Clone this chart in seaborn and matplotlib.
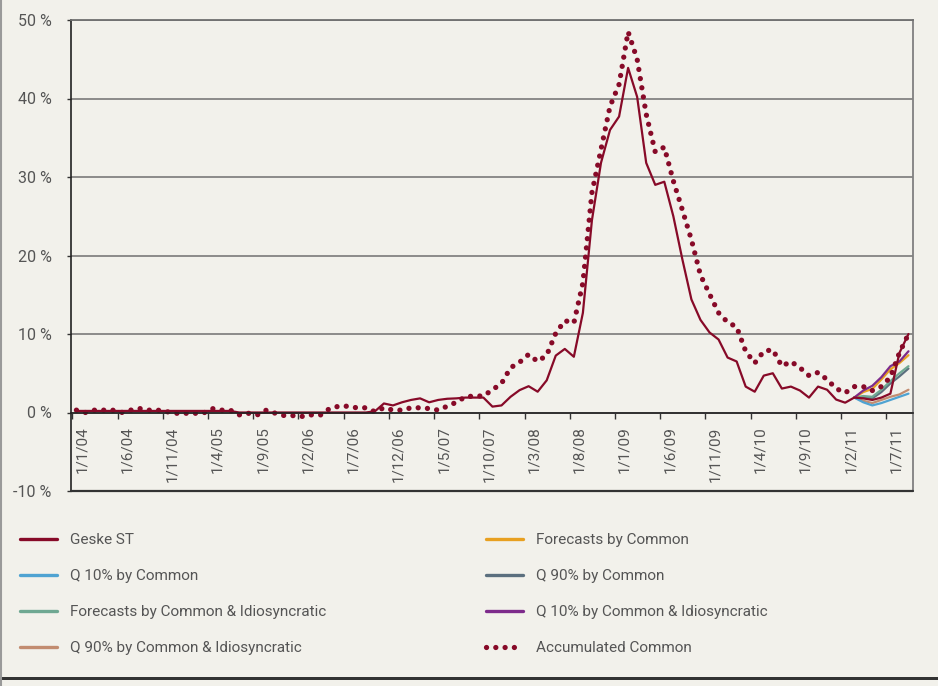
import numpy as np
import pandas as pd
import matplotlib
matplotlib.use("Agg")
import matplotlib.pyplot as plt
import matplotlib.transforms as mtransforms
from matplotlib.lines import Line2D
from matplotlib.patches import Rectangle
import seaborn as sns

# monthly values in %, Jan 2004 .. Sep 2011
geske_st = [0.2, 0.2, 0.2, 0.2, 0.2, 0.2, 0.2, 0.2, 0.2, 0.2,
            0.2, 0.2, 0.2, 0.2, 0.2, 0.2, 0.2, 0.2, 0.0, 0.0,
            0.0, 0.0, 0.0, 0.0, 0.0, 0.0, 0.0, 0.0, 0.0, 0.0,
            0.0, 0.0, 0.0, 0.15, 1.15, 0.9, 1.3, 1.6, 1.8, 1.3,
            1.6, 1.75, 1.8, 1.9, 1.9, 1.9, 0.75, 0.9, 2.0, 2.85,
            3.35, 2.65, 4.1, 7.25, 8.1, 7.1, 12.7, 24.5, 31.8, 36.0,
            37.7, 43.9, 40.2, 31.8, 29.0, 29.4, 25.0, 19.5, 14.4, 11.8,
            10.2, 9.3, 7.0, 6.5, 3.3, 2.65, 4.7, 5.0, 3.05, 3.3,
            2.8, 1.9, 3.3, 2.9, 1.65, 1.25, 1.9, 1.8, 1.6, 1.9,
            2.4, 7.6, 10.0]

accumulated_common = [0.3, 0.0, 0.3, 0.3, 0.3, 0.0, 0.3, 0.5, 0.3, 0.3,
                      0.1, -0.1, -0.1, -0.1, -0.1, 0.5, 0.3, 0.3, -0.3, -0.1,
                      -0.3, 0.3, -0.1, -0.4, -0.4, -0.5, -0.3, -0.3, 0.5, 0.8,
                      0.8, 0.6, 0.6, 0.1, 0.6, 0.3, 0.3, 0.6, 0.6, 0.5,
                      0.3, 0.8, 1.3, 2.0, 2.1, 2.1, 2.9, 3.7, 5.7, 6.4,
                      7.4, 6.5, 7.3, 10.1, 11.7, 11.4, 16.5, 28.0, 33.5, 39.0,
                      41.8, 48.5, 45.0, 38.0, 33.2, 33.8, 29.5, 25.8, 22.0, 17.5,
                      15.1, 12.7, 11.5, 10.9, 7.8, 6.3, 7.8, 8.0, 5.9, 6.5,
                      5.7, 4.7, 5.1, 4.2, 3.05, 2.5, 3.3, 3.3, 2.8, 3.3,
                      4.5, 7.6, 10.0]

# forecast paths, Mar 2011 .. Sep 2011
forecast_start = 86
forecasts_common = [1.9, 2.6, 3.0, 4.2, 5.5, 6.3, 7.3]
q10_common = [1.9, 1.3, 0.9, 1.2, 1.6, 2.0, 2.4]
q90_common = [1.9, 1.9, 1.8, 2.6, 3.7, 4.6, 5.6]
forecasts_ci = [1.9, 2.1, 2.0, 2.9, 4.0, 5.0, 5.9]
q10_ci = [1.9, 2.8, 3.4, 4.5, 5.9, 6.5, 7.8]
q90_ci = [1.9, 1.5, 1.2, 1.6, 2.0, 2.3, 2.9]

tick_labels = ['1/1/04', '1/6/04', '1/11/04', '1/4/05', '1/9/05', '1/2/06',
               '1/7/06', '1/12/06', '1/5/07', '1/10/07', '1/3/08', '1/8/08',
               '1/1/09', '1/6/09', '1/11/09', '1/4/10', '1/9/10', '1/2/11',
               '1/7/11']
y_ticks = [-10, 0, 10, 20, 30, 40, 50]
y_labels = ['-10 %', '0 %', '10 %', '20 %', '30 %', '40 %', '50 %']

bg = '#f2f1eb'
txt = '#555555'
c_geske = '#870a28'
c_fc = '#e8a020'
c_q10c = '#4fa3d2'
c_q90c = '#5b6f7e'
c_fci = '#6fa892'
c_q10ci = '#7d2b8b'
c_q90ci = '#c28c70'
dots = (0, (0.01, 1.75))

sns.set_style('white', {'axes.facecolor': bg, 'figure.facecolor': bg})
plt.rcParams['font.family'] = ['Liberation Sans Narrow', 'Roboto', 'DejaVu Sans']

df = pd.DataFrame({'month': np.arange(len(geske_st)),
                   'geske': geske_st,
                   'acc': accumulated_common})
fc = pd.DataFrame({'month': np.arange(forecast_start, forecast_start + len(forecasts_common)),
                   'fc': forecasts_common, 'q10c': q10_common, 'q90c': q90_common,
                   'fci': forecasts_ci, 'q10ci': q10_ci, 'q90ci': q90_ci})

fig = plt.figure(figsize=(9.38, 6.86), dpi=100)
ax = fig.add_axes([71 / 938, 1 - 491 / 686, (913 - 71) / 938, (491 - 20) / 686])

# forecast paths
for col, c in [('q90ci', c_q90ci), ('q10c', c_q10c), ('q90c', c_q90c),
               ('fci', c_fci), ('fc', c_fc), ('q10ci', c_q10ci)]:
    sns.lineplot(data=fc, x='month', y=col, ax=ax, color=c, lw=1.6)

sns.lineplot(data=df, x='month', y='geske', ax=ax, color=c_geske, lw=1.6)
sns.lineplot(data=df, x='month', y='acc', ax=ax, color=c_geske, lw=3.8,
             linestyle=dots, dash_capstyle='round')

ax.set_xlim(-0.6, 92.5)
ax.set_ylim(-10, 50)
ax.set_xlabel('')
ax.set_ylabel('')

ax.set_yticks(y_ticks)
ax.set_yticklabels(y_labels)
ax.set_xticks([k * 5 - 0.45 for k in range(len(tick_labels))])
ax.set_xticklabels(tick_labels)

ax.yaxis.grid(True, color='#7a7a7a', lw=1.2)
ax.xaxis.grid(False)
ax.set_axisbelow(True)

ax.spines['bottom'].set_position(('data', 0))
ax.spines['bottom'].set_color('#222222')
ax.spines['bottom'].set_linewidth(1.2)
ax.spines['left'].set_color('#222222')
ax.spines['left'].set_linewidth(1.2)
ax.spines['top'].set_color('#707070')
ax.spines['top'].set_linewidth(1.3)
ax.spines['right'].set_color('#808080')
ax.spines['right'].set_linewidth(1.3)
ax.axhline(-10, color='#333333', lw=1.6, clip_on=False, zorder=3)

ax.tick_params(axis='y', direction='out', length=3, width=1, color='#333333',
               pad=11, labelsize=11.5, labelcolor=txt, left=True)
ax.tick_params(axis='x', direction='out', length=4, width=1, color='#333333',
               pad=6, labelsize=11, labelcolor=txt, labelrotation=90, bottom=True)
shift = mtransforms.ScaledTranslation(7 / 72, 0, fig.dpi_scale_trans)
for lab in ax.get_xticklabels():
    lab.set_transform(lab.get_transform() + shift)

# legend in two columns placed separately
h = lambda c: Line2D([], [], color=c, lw=2.4)
col1 = [(h(c_geske), 'Geske ST'), (h(c_q10c), 'Q 10% by Common'),
        (h(c_fci), 'Forecasts by Common & Idiosyncratic'),
        (h(c_q90ci), 'Q 90% by Common & Idiosyncratic')]
col2 = [(h(c_fc), 'Forecasts by Common'), (h(c_q90c), 'Q 90% by Common'),
        (h(c_q10ci), 'Q 10% by Common & Idiosyncratic'),
        (Line2D([], [], color=c_geske, lw=3.8, linestyle=dots, dash_capstyle='round'),
         'Accumulated Common')]
for items, x0 in [(col1, 20 / 938), (col2, 486 / 938)]:
    leg = fig.legend([i[0] for i in items], [i[1] for i in items],
                     loc='upper left', bbox_to_anchor=(x0, 1 - 533 / 686),
                     frameon=False, fontsize=11, handlelength=2.4,
                     handletextpad=0.85, labelspacing=1.45, borderpad=0,
                     borderaxespad=0, labelcolor=txt)

# figure frame
fig.add_artist(Line2D([0.001, 0.001], [0, 1], transform=fig.transFigure,
                      color='#9a9a9a', lw=1.5))
fig.add_artist(Rectangle((0, 6 / 686), 1, 3 / 686, transform=fig.transFigure,
                         color='#333333', lw=0))

fig.savefig('out.png', dpi=100, facecolor=bg)
